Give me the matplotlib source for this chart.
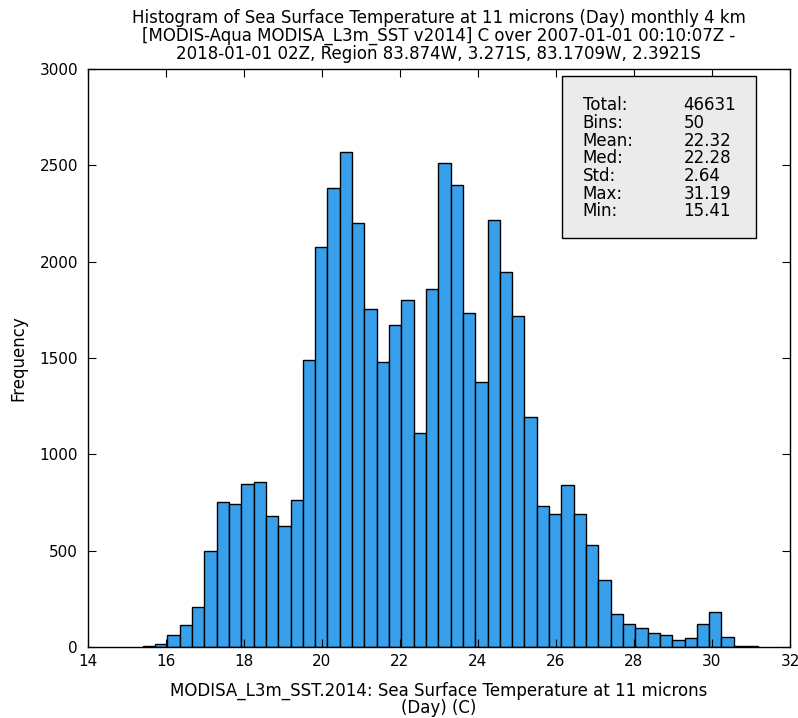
import numpy as np
import matplotlib
matplotlib.use("Agg")
import matplotlib.pyplot as plt
from matplotlib.patches import Rectangle

# histogram of SST, 50 bins between min and max
sst_min = 15.41
sst_max = 31.19
n_bins = 50
counts = [3, 15, 60, 115, 209, 497, 752, 744, 847, 855,
          682, 629, 760, 1490, 2075, 2381, 2570, 2200, 1755, 1480,
          1671, 1802, 1108, 1856, 2514, 2397, 1731, 1377, 2217, 1944,
          1717, 1192, 730, 692, 839, 692, 527, 348, 169, 119,
          97, 74, 60, 36, 44, 119, 183, 52, 6, 5]

stat_names = ["Total:", "Bins:", "Mean:", "Med:", "Std:", "Max:", "Min:"]
stat_values = ["46631", "50", "22.32", "22.28", "2.64", "31.19", "15.41"]

title = ("Histogram of Sea Surface Temperature at 11 microns (Day) monthly 4 km\n"
         "[MODIS-Aqua MODISA_L3m_SST v2014] C over 2007-01-01 00:10:07Z -\n"
         "2018-01-01 02Z, Region 83.874W, 3.271S, 83.1709W, 2.3921S")
xlabel = "MODISA_L3m_SST.2014: Sea Surface Temperature at 11 microns\n(Day) (C)"

edges = np.linspace(sst_min, sst_max, n_bins + 1)

fig = plt.figure(figsize=(7.98, 7.18), dpi=100)
ax = fig.add_axes([0.110, 0.099, 0.880, 0.805])

ax.bar(edges[:-1], counts, width=np.diff(edges), align="edge",
       color="#38a0ea", edgecolor="black", linewidth=1.0)

ax.set_xlim(14, 32)
ax.set_ylim(0, 3000)
ax.set_xticks(range(14, 33, 2))
ax.set_yticks(range(0, 3001, 500))
ax.tick_params(direction="in", top=True, right=True, length=6, labelsize=11)
ax.tick_params(axis="y", pad=7)
ax.tick_params(axis="x", pad=5)
for s in ax.spines.values():
    s.set_linewidth(1.0)

ax.set_title(title, fontsize=12, linespacing=1.0, pad=7)
ax.set_xlabel(xlabel, fontsize=12, linespacing=0.98, labelpad=9)
ax.set_ylabel("Frequency", fontsize=12, labelpad=9)

# stats box
ax.add_patch(Rectangle((0.675, 0.708), 0.277, 0.280, transform=ax.transAxes,
                       facecolor="#ebebeb", edgecolor="black", linewidth=1.0, zorder=3))
ax.text(0.705, 0.953, "\n".join(stat_names), transform=ax.transAxes,
        fontsize=12, va="top", ha="left", linespacing=0.98, zorder=4)
ax.text(0.848, 0.953, "\n".join(stat_values), transform=ax.transAxes,
        fontsize=12, va="top", ha="left", linespacing=0.98, zorder=4)

fig.savefig("out.png", dpi=100)
